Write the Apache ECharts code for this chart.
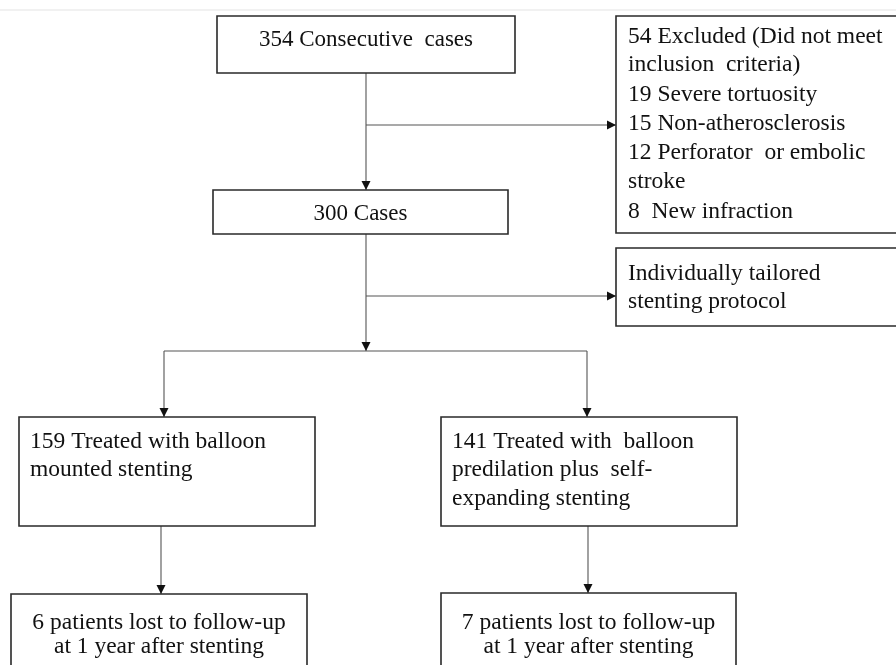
<!DOCTYPE html>
<html>
<head>
<meta charset="utf-8">
<script src="https://cdn.jsdelivr.net/npm/echarts@6/dist/echarts.min.js"></script>
<style>html,body{margin:0;padding:0;background:#fff}#c{width:896px;height:665px}</style>
</head>
<body>
<div id="c"></div>
<script>
// ---- data (flow counts and labels) ----
const totalCases = 354;
const excludedTotal = 54;
const exclusionCounts = [19, 15, 12, 8];
const exclusionReasons = ['Severe tortuosity', 'Non-atherosclerosis', 'Perforator  or embolic', 'New infraction'];
const includedCases = 300;
const protocolLabel = ['Individually tailored', 'stenting protocol'];
const groupCounts = [159, 141];
const groupLabels = [
  ['Treated with balloon', 'mounted stenting'],
  ['Treated with  balloon', 'predilation plus  self-', 'expanding stenting']
];
const lostCounts = [6, 7];

// ---- layout (diagram space, 896 x 665) ----
const TEXT_DY = 2;
const boxes = [
  { r: [217, 16, 515, 73], align: 'center', lines: [totalCases + ' Consecutive  cases'], ty: [38], fs: 23 },
  { r: [213, 190, 508, 234], align: 'center', lines: [includedCases + ' Cases'], ty: [212], fs: 23 },
  { r: [616, 16, 910, 233], align: 'left', tx: 628,
    lines: [excludedTotal + ' Excluded (Did not meet', 'inclusion  criteria)',
      exclusionCounts[0] + ' ' + exclusionReasons[0],
      exclusionCounts[1] + ' ' + exclusionReasons[1],
      exclusionCounts[2] + ' ' + exclusionReasons[2], 'stroke',
      exclusionCounts[3] + '  ' + exclusionReasons[3]],
    ty: [35, 63, 93, 122, 151, 180, 210], fs: 23.5 },
  { r: [616, 248, 910, 326], align: 'left', tx: 628, lines: protocolLabel, ty: [272, 300], fs: 23.5 },
  { r: [19, 417, 315, 526], align: 'left', tx: 30,
    lines: [groupCounts[0] + ' ' + groupLabels[0][0], groupLabels[0][1]], ty: [440, 468], fs: 23.5 },
  { r: [441, 417, 737, 526], align: 'left', tx: 452,
    lines: [groupCounts[1] + ' ' + groupLabels[1][0], groupLabels[1][1], groupLabels[1][2]], ty: [440, 468, 497], fs: 23.5 },
  { r: [11, 594, 307, 680], align: 'center', lines: [lostCounts[0] + ' patients lost to follow-up', 'at 1 year after stenting'], ty: [621, 645], fs: 23.5 },
  { r: [441, 593, 736, 680], align: 'center', lines: [lostCounts[1] + ' patients lost to follow-up', 'at 1 year after stenting'], ty: [621, 645], fs: 23.5 }
];
const connectors = [
  { p: [[366, 73], [366, 190]], arrow: true },
  { p: [[366, 125], [616, 125]], arrow: true },
  { p: [[366, 234], [366, 351]], arrow: true },
  { p: [[366, 296], [616, 296]], arrow: true },
  { p: [[164, 351], [587, 351]], arrow: false },
  { p: [[164, 351], [164, 417]], arrow: true },
  { p: [[587, 351], [587, 417]], arrow: true },
  { p: [[161, 526], [161, 594]], arrow: true },
  { p: [[588, 526], [588, 593]], arrow: true },
  { p: [[0, 10], [896, 10]], arrow: false, faint: true }
];

const FONT = 'Liberation Serif';

const chart = echarts.init(document.getElementById('c'), null, { renderer: 'canvas' });

function boxItem(params, api) {
  const b = boxes[params.dataIndex];
  const p1 = api.coord([b.r[0], b.r[1]]);
  const p2 = api.coord([b.r[2], b.r[3]]);
  const children = [{
    type: 'rect',
    shape: { x: p1[0], y: p1[1], width: p2[0] - p1[0], height: p2[1] - p1[1] },
    style: { fill: '#fff', stroke: '#2a2a2a', lineWidth: 1.6 }
  }];
  b.lines.forEach((ln, i) => {
    const x = b.align === 'center' ? (b.r[0] + b.r[2]) / 2 : b.tx;
    const pt = api.coord([x, b.ty[i] + TEXT_DY]);
    children.push({
      type: 'text',
      x: pt[0], y: pt[1],
      style: { text: ln, fontFamily: FONT, fontSize: b.fs, fill: '#111', align: b.align, verticalAlign: 'middle' }
    });
  });
  return { type: 'group', children };
}

function connItem(params, api) {
  const c = connectors[params.dataIndex];
  const pts = c.p.map(q => api.coord(q));
  const children = [{
    type: 'polyline',
    shape: { points: pts },
    style: c.faint ? { stroke: '#ececec', lineWidth: 1.5, fill: null } : { stroke: '#555', lineWidth: 1.1, fill: null }
  }];
  if (c.arrow) {
    const a = pts[pts.length - 2], e = pts[pts.length - 1];
    const dx = e[0] - a[0], dy = e[1] - a[1];
    const len = Math.sqrt(dx * dx + dy * dy);
    const ux = dx / len, uy = dy / len;
    const L = 9, W = 4.5;
    const bx = e[0] - ux * L, by = e[1] - uy * L;
    children.push({
      type: 'polygon',
      shape: { points: [[e[0], e[1]], [bx - uy * W, by + ux * W], [bx + uy * W, by - ux * W]] },
      style: { fill: '#111' }
    });
  }
  return { type: 'group', children };
}

chart.setOption({
  animation: false,
  backgroundColor: '#fff',
  grid: { left: 0, right: 0, top: 0, bottom: 0 },
  xAxis: { type: 'value', min: 0, max: 896, show: false },
  yAxis: { type: 'value', min: 0, max: 665, inverse: true, show: false },
  series: [
    { type: 'custom', renderItem: connItem, data: connectors.map((c, i) => [c.p[0][0], c.p[0][1]]), clip: true, z: 1 },
    { type: 'custom', renderItem: boxItem, data: boxes.map((b) => [b.r[0], b.r[1]]), clip: true, z: 2 }
  ]
});
</script>
</body>
</html>
